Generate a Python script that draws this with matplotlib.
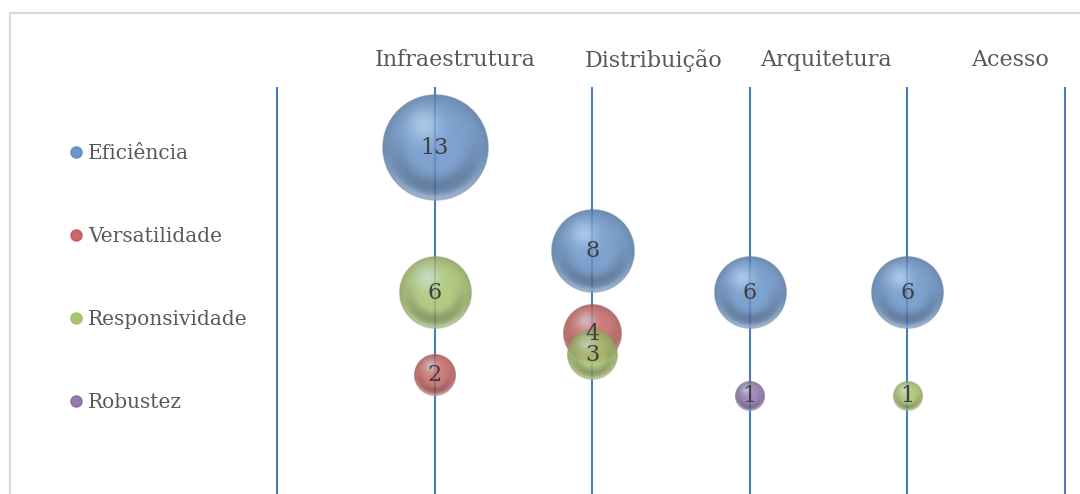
import numpy as np
import matplotlib
matplotlib.use('Agg')
import matplotlib.pyplot as plt
from matplotlib.colors import to_rgb
from matplotlib.lines import Line2D
from matplotlib.patches import Rectangle

# data
categories = ['Infraestrutura', 'Distribuição', 'Arquitetura', 'Acesso']
series = ['Eficiência', 'Versatilidade', 'Responsividade', 'Robustez']
colors = ['#5283c0', '#c0504d', '#9bbb59', '#8064a2']
# value per category for each series (None = no bubble)
eficiencia = [13, 8, 6, 6]
versatilidade = [2, 4, None, None]
responsividade = [6, 3, None, 1]
robustez = [None, None, 1, None]
values = [eficiencia, versatilidade, responsividade, robustez]

# header label positions (in x units of the chart)
header_x = [1.13, 2.39, 3.48, 4.65]

W, H, DPI = 1080, 494, 100
fig = plt.figure(figsize=(W / DPI, H / DPI), dpi=DPI)
plt.rcParams['font.family'] = ['DejaVu Serif']

# axes from the first to the last vertical line
ax_l, ax_r, ax_t, ax_b = 277, 1065, 88, 494
ax = fig.add_axes([ax_l / W, 1 - ax_b / H, (ax_r - ax_l) / W, (ax_b - ax_t) / H])
xlim = (0, 5)
ylim = (-3.74, 15.9)
ax.set_xlim(*xlim)
ax.set_ylim(*ylim)
ax.axis('off')

for xv in range(6):
    ax.axvline(xv, color='#4a7ebb', lw=1.5, zorder=1, clip_on=False)

px_x = (ax_r - ax_l) / (xlim[1] - xlim[0])
px_y = (ax_b - ax_t) / (ylim[1] - ylim[0])
r_scale = 14.7  # pixel radius of a bubble of value 1


def sphere(color, n=220):
    base = np.array(to_rgb(color))
    base = base + (1 - base) * 0.12
    yy, xx = np.mgrid[-1:1:n * 1j, -1:1:n * 1j]
    d = np.hypot(xx, yy)
    dc = np.clip(d, 0, 1)
    rgb = base[None, None, :] * (1 - 0.2 * dc[..., None] ** 4)
    # darker band in the lower half
    band = np.exp(-((d - 0.7) ** 2) / 0.03) * np.clip(yy + 0.3, 0, 1)
    rgb = rgb * (1 - 0.25 * band[..., None])
    # soft highlight at upper left
    hl = np.exp(-((xx + 0.22) ** 2 + (yy + 0.42) ** 2) / 0.1)
    hi = np.array([0.8, 0.92, 1.0])
    rgb = rgb + (hi - rgb) * 0.5 * hl[..., None]
    # bright reflection on the lower rim
    rim = np.exp(-((d - 0.95) ** 2) / 0.006) * np.clip(yy - 0.1, 0, 1)
    rgb = rgb + (1 - rgb) * 0.4 * rim[..., None]
    alpha = np.clip((1 - d) * n / 2, 0, 1) * 0.85
    return np.dstack([np.clip(rgb, 0, 1), alpha])


for k, (vals, c) in enumerate(zip(values, colors)):
    img = sphere(c)
    for i, v in enumerate(vals):
        if v is None:
            continue
        x = i + 1
        r = r_scale * np.sqrt(v)
        rx, ry = r / px_x, r / px_y
        ax.imshow(img, extent=(x - rx, x + rx, v - ry, v + ry), aspect='auto',
                  interpolation='bilinear', zorder=2 + k)
        ax.text(x, v, str(v), ha='center', va='center', fontsize=16,
                color='#404040', zorder=10)

ax.set_xlim(*xlim)
ax.set_ylim(*ylim)

for lab, hx in zip(categories, header_x):
    ax.text(hx, ylim[1] + 1.35, lab, ha='center', va='center', fontsize=16,
            color='#595959', clip_on=False)

handles = [Line2D([], [], marker='o', ls='', markersize=8, markerfacecolor=c,
                  markeredgecolor=c, alpha=0.85) for c in colors]
fig.legend(handles, series, loc='upper left', bbox_to_anchor=(48 / W, 1 - 126 / H),
           frameon=False, fontsize=14.5, labelcolor='#595959', handletextpad=0.1,
           handlelength=1.0, labelspacing=3.17)

fig.patches.append(Rectangle((10 / W, -0.1), 1.2, 1 - 13 / H + 0.1, transform=fig.transFigure,
                             fill=False, ec='#d9d9d9', lw=1.5))

fig.savefig('out.png', dpi=DPI)
